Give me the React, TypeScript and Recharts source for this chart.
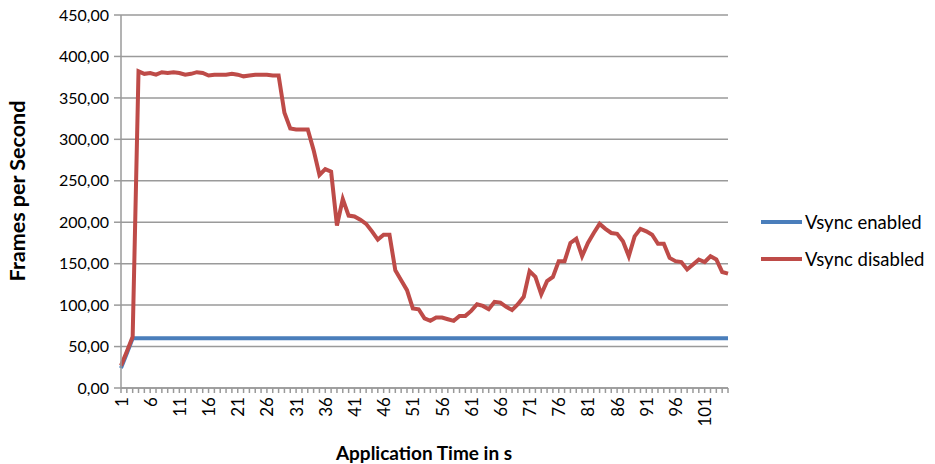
import { LineChart, Line, XAxis, YAxis, CartesianGrid } from 'recharts';

// seconds 1..105
const seconds = [
  '1', '2', '3', '4', '5', '6', '7', '8', '9', '10', '11', '12', '13', '14', '15',
  '16', '17', '18', '19', '20', '21', '22', '23', '24', '25', '26', '27', '28', '29', '30',
  '31', '32', '33', '34', '35', '36', '37', '38', '39', '40', '41', '42', '43', '44', '45',
  '46', '47', '48', '49', '50', '51', '52', '53', '54', '55', '56', '57', '58', '59', '60',
  '61', '62', '63', '64', '65', '66', '67', '68', '69', '70', '71', '72', '73', '74', '75',
  '76', '77', '78', '79', '80', '81', '82', '83', '84', '85', '86', '87', '88', '89', '90',
  '91', '92', '93', '94', '95', '96', '97', '98', '99', '100', '101', '102', '103', '104', '105',
];

const vsyncEnabled = [
  24, 42, 60, 60, 60, 60, 60, 60, 60, 60, 60, 60, 60, 60, 60,
  60, 60, 60, 60, 60, 60, 60, 60, 60, 60, 60, 60, 60, 60, 60,
  60, 60, 60, 60, 60, 60, 60, 60, 60, 60, 60, 60, 60, 60, 60,
  60, 60, 60, 60, 60, 60, 60, 60, 60, 60, 60, 60, 60, 60, 60,
  60, 60, 60, 60, 60, 60, 60, 60, 60, 60, 60, 60, 60, 60, 60,
  60, 60, 60, 60, 60, 60, 60, 60, 60, 60, 60, 60, 60, 60, 60,
  60, 60, 60, 60, 60, 60, 60, 60, 60, 60, 60, 60, 60, 60, 60,
];

const vsyncDisabled = [
  27, 44, 62, 382, 379, 380, 378, 381, 380, 381, 380, 378, 379, 381, 380,
  377, 378, 378, 378, 379, 378, 376, 377, 378, 378, 378, 377, 377, 332, 313,
  312, 312, 312, 287, 257, 264, 261, 196, 228, 208, 207, 203, 198, 189, 179,
  185, 185, 142, 130, 118, 96, 95, 84, 81, 85, 85, 83, 81, 87, 87,
  93, 101, 99, 95, 104, 103, 98, 94, 101, 110, 141, 134, 113, 129, 134,
  153, 153, 175, 180, 159, 175, 187, 198, 192, 187, 186, 177, 159, 183, 192,
  189, 185, 174, 174, 157, 153, 152, 143, 149, 155, 152, 159, 155, 140, 138,
];

const yTicks = [0, 50, 100, 150, 200, 250, 300, 350, 400, 450];

const seriesNames = ['Vsync enabled', 'Vsync disabled'];
const seriesColors = ['#4a7ebb', '#be4b48'];

const FONT = 'Lato, "Open Sans", sans-serif';
const AXIS_GRAY = '#9a9a9a';

const data = seconds.map((s, i) => ({
  second: s,
  enabled: vsyncEnabled[i],
  disabled: vsyncDisabled[i],
}));

const formatComma = (v: number) => v.toFixed(2).replace('.', ',');

// only every 5th second gets a label, but every second keeps its tick mark
function SecondTick(props: any) {
  const { x, y, payload, index } = props;
  const i = index ?? payload.index;
  if (i % 5 !== 0) return null;
  return (
    <text
      x={x}
      y={y}
      transform={`rotate(-90 ${x} ${y})`}
      textAnchor="end"
      dominantBaseline="central"
      fontFamily={FONT}
      fontSize={17}
      fill="#000"
    >
      {payload.value}
    </text>
  );
}

function LegendBox() {
  return (
    <div
      style={{
        position: 'absolute',
        left: 758,
        top: 203,
        fontFamily: FONT,
        fontSize: 18.5,
        color: '#000',
      }}
    >
      {seriesNames.map((name, i) => (
        <div key={name} style={{ display: 'flex', alignItems: 'center', height: 37 }}>
          <svg width={46} height={6} style={{ marginRight: 1 }}>
            <line x1={3} y1={3} x2={44} y2={3} stroke={seriesColors[i]} strokeWidth={4} />
          </svg>
          <span>{name}</span>
        </div>
      ))}
    </div>
  );
}

export default function App() {
  return (
    <div style={{ position: 'absolute', left: 0, top: 0, width: 935, height: 464, background: '#fff' }}>
      <LineChart
        width={935}
        height={464}
        data={data}
        margin={{ top: 15, right: 207, bottom: 0, left: 0 }}
      >
        <CartesianGrid vertical={false} stroke={AXIS_GRAY} strokeWidth={1.5} />
        <XAxis
          dataKey="second"
          interval={0}
          height={76}
          padding={{ left: 0, right: 0 }}
          tick={<SecondTick />}
          tickSize={5}
          tickMargin={4}
          stroke={AXIS_GRAY}
          strokeWidth={1.5}
          label={{
            content: () => (
              <text
                x={424}
                y={452}
                textAnchor="middle"
                dominantBaseline="central"
                fontFamily={FONT}
                fontWeight="bold"
                fontSize={19}
                fill="#000"
              >
                Application Time in s
              </text>
            ),
          }}
        />
        <YAxis
          width={121}
          domain={[0, 450]}
          ticks={yTicks}
          tickFormatter={formatComma}
          tickSize={7}
          tickMargin={5}
          stroke={AXIS_GRAY}
          strokeWidth={1.5}
          tick={{ fontFamily: FONT, fontSize: 16, fill: '#000' }}
          label={{
            content: () => (
              <text
                x={17}
                y={191}
                transform="rotate(-90 17 191)"
                textAnchor="middle"
                dominantBaseline="central"
                fontFamily={FONT}
                fontWeight="bold"
                fontSize={21.5}
                fill="#000"
              >
                Frames per Second
              </text>
            ),
          }}
        />
        <Line
          dataKey="enabled"
          name={seriesNames[0]}
          stroke={seriesColors[0]}
          strokeWidth={4}
          dot={false}
          isAnimationActive={false}
        />
        <Line
          dataKey="disabled"
          name={seriesNames[1]}
          stroke={seriesColors[1]}
          strokeWidth={4}
          dot={false}
          isAnimationActive={false}
        />
      </LineChart>
      <LegendBox />
    </div>
  );
}
